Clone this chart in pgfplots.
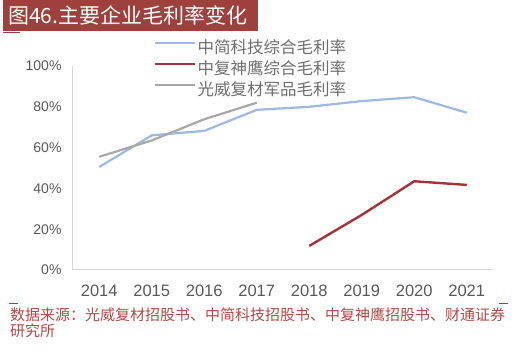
\documentclass[border=0pt]{standalone}
\usepackage{fontspec}
\setmainfont{Liberation Sans}
\newfontfamily\cjk{Noto Sans CJK SC}
\usepackage{pgfplots}
\pgfplotsset{compat=1.18}
\definecolor{zjblue}{HTML}{9DB9E3}
\definecolor{zfred}{HTML}{A3323A}
\definecolor{gwgray}{HTML}{A8A8A8}
\definecolor{titlebg}{HTML}{9E403C}
\definecolor{srcred}{HTML}{B04A44}
\definecolor{axgray}{HTML}{D6D6D6}
\definecolor{lblgray}{HTML}{595959}
\definecolor{leggray}{HTML}{6E6E6E}
\begin{document}
\begin{tikzpicture}[x=1pt,y=1pt]
\useasboundingbox (0,0) rectangle (517,352);
\fill[titlebg] (3,321) rectangle (258,352);
\fill[titlebg] (3,318.5) rectangle (20,320);
\node[anchor=west, text=white, font=\cjk\fontsize{21}{24}\selectfont, inner sep=0] at (8,337) {图46.主要企业毛利率变化};
\begin{axis}[at={(73pt,82pt)}, anchor=south west, scale only axis, width=420pt, height=204pt,
  xmin=-0.5, xmax=7.5, ymin=0, ymax=100,
  axis x line*=bottom, axis y line*=left,
  axis line style={axgray, line width=1pt, -},
  xtick={0,1,2,3,4,5,6,7},
  xticklabels={2014,2015,2016,2017,2018,2019,2020,2021},
  ytick={0,20,40,60,80,100},
  yticklabel={\pgfmathprintnumber{\tick}\%},
  major tick length=0pt,
  ticklabel style={text=lblgray},
  x tick label style={font=\fontsize{16.5}{18}\selectfont, yshift=-11pt},
  y tick label style={font=\fontsize{14}{16}\selectfont, xshift=-8pt},
  /pgf/number format/assume math mode=true,
  legend style={at={(0.193,1.137)}, anchor=north west, draw=none, fill=none,
    inner sep=0pt, font=\cjk\fontsize{16.5}{18}\selectfont, text=leggray,
    nodes={inner sep=1pt, text height=14pt, text depth=5pt},
    /tikz/every even column/.append style={column sep=3pt}},
  legend cell align=left,
  legend image code/.code={\draw[#1] (0pt,5.5pt) -- (40pt,5.5pt);},
]
\addplot[zjblue, line width=2.2pt] coordinates {(0,50.5)(1,66)(2,68.2)(3,78.5)(4,80)(5,82.8)(6,84.7)(7,77.1)};
\addlegendentry{中简科技综合毛利率}
\addplot[zfred, line width=2.4pt] coordinates {(4,11.8)(5,27)(6,43.5)(7,41.7)};
\addlegendentry{中复神鹰综合毛利率}
\addplot[gwgray, line width=2.2pt] coordinates {(0,55.5)(1,63.5)(2,73.9)(3,82)};
\addlegendentry{光威复材军品毛利率}
\end{axis}
\draw[titlebg, line width=1pt] (9,48) -- (18,48);
\draw[titlebg, line width=1pt] (499,48) -- (508,48);
\node[anchor=west, text=srcred, font=\cjk\fontsize{15}{17}\selectfont, inner sep=0] at (10,37) {数据来源：光威复材招股书、中简科技招股书、中复神鹰招股书、财通证券};
\node[anchor=west, text=srcred, font=\cjk\fontsize{15}{17}\selectfont, inner sep=0] at (10,21) {研究所};
\end{tikzpicture}
\end{document}
